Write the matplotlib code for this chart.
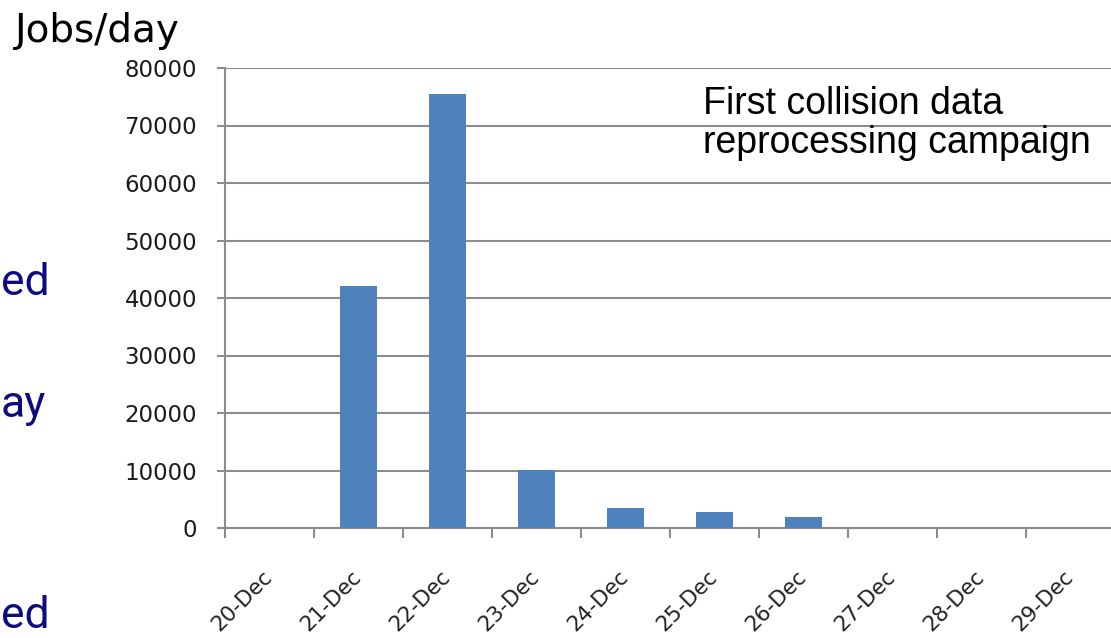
import matplotlib
matplotlib.use("Agg")
import matplotlib.pyplot as plt
import numpy as np

days = ["20-Dec", "21-Dec", "22-Dec", "23-Dec", "24-Dec",
        "25-Dec", "26-Dec", "27-Dec", "28-Dec", "29-Dec"]
jobs = [0, 42100, 75500, 10100, 3550, 2850, 1950, 0, 0, 0]
yticks = [0, 10000, 20000, 30000, 40000, 50000, 60000, 70000, 80000]

grey = "#8c8c8c"
bar_blue = "#4f81bd"
navy = "#0c0c80"

fig = plt.figure(figsize=(11.11, 6.38), dpi=100)
ax = fig.add_axes([225 / 1111, 110 / 638, 890 / 1111, 460 / 638])

x = np.arange(len(days))
ax.bar(x, jobs, width=0.42, color=bar_blue, zorder=3)

ax.set_xlim(-0.5, len(days) - 0.5)
ax.set_ylim(0, 80000)
ax.set_yticks(yticks)
ax.set_yticklabels([str(v) for v in yticks])
ax.yaxis.grid(True, color=grey, linewidth=1.5, zorder=0)

# labels at category centres, tick marks at the boundaries
ax.set_xticks(x)
ax.set_xticklabels(days, rotation=45, ha="right", va="center",
                   rotation_mode="anchor")
ax.set_xticks(np.arange(len(days)) - 0.5, minor=True)
ax.tick_params(axis="x", which="major", length=0, pad=33, labelsize=15.5,
               labelcolor="#222222")
ax.tick_params(axis="x", which="minor", length=7, width=1.5, color=grey)
ax.tick_params(axis="y", length=6, width=1.5, color=grey, pad=14,
               labelsize=16.5, labelcolor="#1a1a1a")

for side in ["top", "right"]:
    ax.spines[side].set_visible(False)
for side in ["left", "bottom"]:
    ax.spines[side].set_color(grey)
    ax.spines[side].set_linewidth(1.5)

fig.text(15 / 1111, 1 - 12 / 638, "Jobs/day", fontsize=28, va="top",
         ha="left", color="black")

fig.text(703 / 1111, 1 - 86 / 638, "First collision data\nreprocessing campaign",
         fontsize=27, family="Liberation Sans", va="top", ha="left",
         linespacing=1.12)

# fragments of the slide text cut off on the left
for word, ybase in [("ed", 295), ("ay", 417), ("ed", 628)]:
    fig.text(1 / 1111, 1 - ybase / 638, word, fontsize=32, family="Roboto",
             color=navy, ha="left", va="baseline")

fig.savefig("out.png", dpi=100)
